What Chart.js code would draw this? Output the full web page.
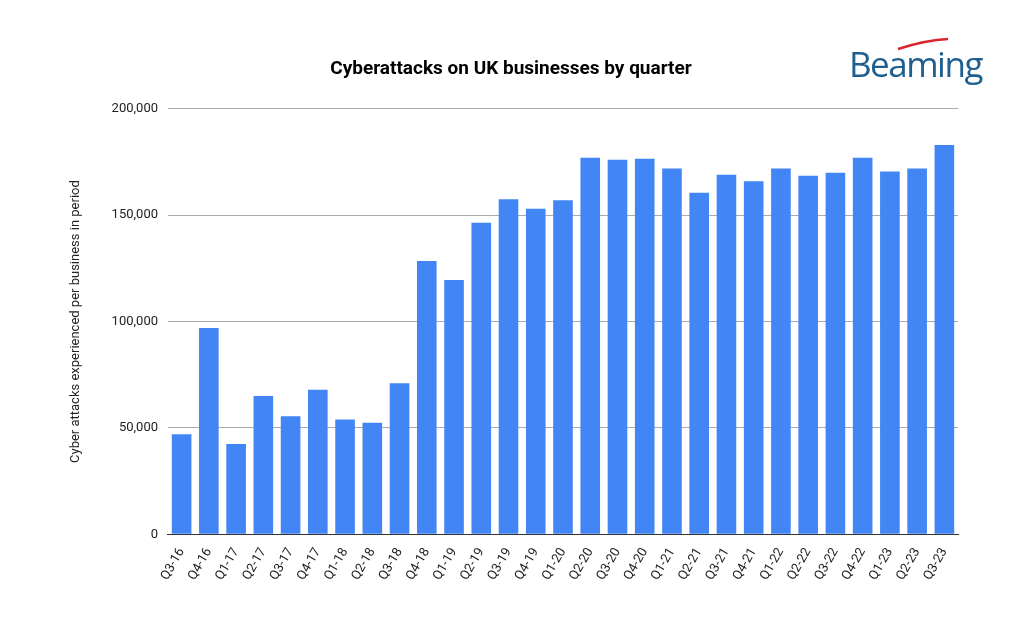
<!DOCTYPE html>
<html><head><meta charset="utf-8">
<script src="https://cdn.jsdelivr.net/npm/chart.js@4"></script>
<style>
html,body{margin:0;padding:0;background:#fff;}
#wrap{position:relative;width:1024px;height:628px;}
#logo{position:absolute;left:849px;top:40px;font-family:"Open Sans",sans-serif;font-size:35px;color:#1f5f8f;letter-spacing:-1.5px;}
#sw{position:absolute;left:896px;top:36px;}
</style></head><body>
<div id="wrap"><canvas id="c" width="1024" height="628"></canvas>
<div id="logo">Beaming</div>
<svg id="sw" width="60" height="16"><path d="M2 13 Q30 4 52 3" stroke="#d9262e" stroke-width="2.5" fill="none"/></svg>
</div>
<script>
const categories=["Q3-16","Q4-16","Q1-17","Q2-17","Q3-17","Q4-17","Q1-18","Q2-18","Q3-18","Q4-18","Q1-19","Q2-19","Q3-19","Q4-19","Q1-20","Q2-20","Q3-20","Q4-20","Q1-21","Q2-21","Q3-21","Q4-21","Q1-22","Q2-22","Q3-22","Q4-22","Q1-23","Q2-23","Q3-23"];
const attacks=[47000,97000,42500,65000,55500,68000,54000,52500,71000,128500,119500,146500,157500,153000,157000,177000,176000,176500,172000,160500,169000,166000,172000,168500,170000,177000,170500,172000,183000];
new Chart(document.getElementById('c'),{
type:'bar',
data:{labels:categories,datasets:[{data:attacks,backgroundColor:'#4285f4',categoryPercentage:0.72,barPercentage:1}]},
options:{responsive:false,animation:false,
layout:{padding:{left:64,right:66,top:58,bottom:42}},
plugins:{legend:{display:false},tooltip:{enabled:false},
title:{display:true,text:'Cyberattacks on UK businesses by quarter',font:{family:'Roboto',size:19,weight:'bold'},color:'#000',padding:{top:0,bottom:28}}},
scales:{
x:{grid:{display:false},border:{color:'#333'},ticks:{color:'#222',font:{family:'Roboto',size:13},maxRotation:60,minRotation:60,autoSkip:false}},
y:{min:0,max:200000,ticks:{stepSize:50000,color:'#222',font:{family:'Roboto',size:13},padding:10,callback:v=>v.toLocaleString('en-US')},
grid:{color:'#aaa',drawTicks:false},border:{display:false},
title:{display:true,text:'Cyber attacks experienced per business in period',font:{family:'Roboto',size:13},color:'#222',padding:{bottom:18}}}
}}});
</script></body></html>
